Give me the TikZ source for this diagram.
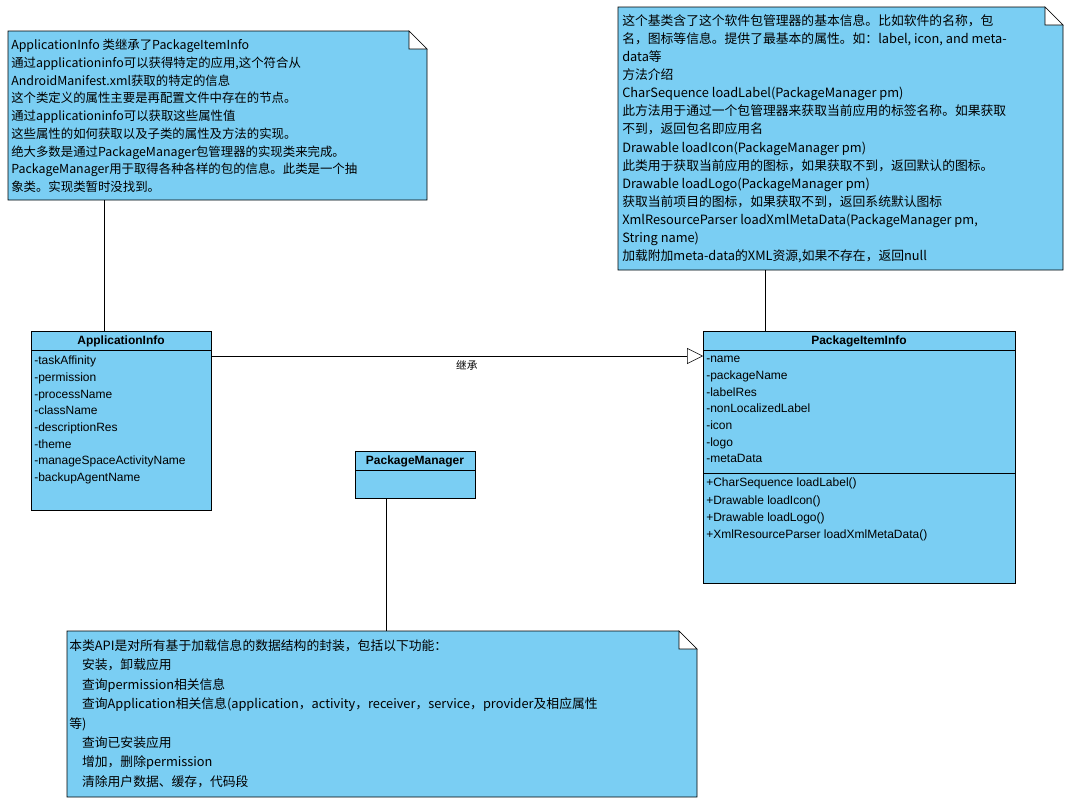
\documentclass[tikz,border=0pt]{standalone}
\usepackage{fontspec}
\setmainfont{Liberation Sans}
\newfontfamily\cjk{Noto Sans CJK SC}
\usepackage{tikz}
\usetikzlibrary{arrows.meta, positioning, calc}

\definecolor{umlblue}{RGB}{122,206,243}

\begin{document}
\begin{tikzpicture}[
    x=0.75pt, y=-0.75pt,
    note/.style={draw=black, fill=umlblue},
    notetext/.style={anchor=north west, inner sep=0pt, align=left},
    classbox/.style={draw=black, fill=umlblue},
    classname/.style={font=\fontsize{9}{11}\selectfont\bfseries, inner sep=0pt},
    members/.style={anchor=north west, inner sep=0pt, align=left, font=\fontsize{9}{12.5}\selectfont},
    link/.style={black},
    inherit/.style={-{Triangle[open, length=12pt, width=12pt]}, black}
]
\useasboundingbox (0,0) rectangle (1072,807);

% Note for ApplicationInfo
\draw[note] (8,31) -- (409,31) -- (427,49) -- (427,200) -- (8,200) -- cycle;
\draw[fill=white] (409,31) -- (409,49) -- (427,49) -- cycle;
\coordinate (n1) at (104,200);
\node[notetext, font=\cjk\fontsize{9.3}{13.3}\selectfont] (note1text) at (11,39) {ApplicationInfo 类继承了PackageItemInfo\\
通过applicationinfo可以获得特定的应用,这个符合从\\
AndroidManifest.xml获取的特定的信息\\
这个类定义的属性主要是再配置文件中存在的节点。\\
通过applicationinfo可以获取这些属性值\\
这些属性的如何获取以及子类的属性及方法的实现。\\
绝大多数是通过PackageManager包管理器的实现类来完成。\\
PackageManager用于取得各种各样的包的信息。此类是一个抽\\
象类。实现类暂时没找到。};

% Note for PackageItemInfo
\draw[note] (618,7) -- (1045,7) -- (1063,25) -- (1063,270) -- (618,270) -- cycle;
\draw[fill=white] (1045,7) -- (1045,25) -- (1063,25) -- cycle;
\coordinate (n2) at (765,270);
\node[notetext, font=\cjk\fontsize{9.6}{13.6}\selectfont] (note2text) at (622,14) {这个基类含了这个软件包管理器的基本信息。比如软件的名称，包\\
名，图标等信息。提供了最基本的属性。如：label, icon, and meta-\\
data等\\
方法介绍\\
CharSequence loadLabel(PackageManager pm)\\
此方法用于通过一个包管理器来获取当前应用的标签名称。如果获取\\
不到，返回包名即应用名\\
Drawable loadIcon(PackageManager pm)\\
此类用于获取当前应用的图标，如果获取不到，返回默认的图标。\\
Drawable loadLogo(PackageManager pm)\\
获取当前项目的图标，如果获取不到，返回系统默认图标\\
XmlResourceParser loadXmlMetaData(PackageManager pm,\\
String name)\\
加载附加meta-data的XML资源,如果不存在，返回null};

% Note for PackageManager
\draw[note] (67,631) -- (679,631) -- (697,649) -- (697,797) -- (67,797) -- cycle;
\draw[fill=white] (679,631) -- (679,649) -- (697,649) -- cycle;
\coordinate (n3) at (386,631);
\node[notetext, font=\cjk\fontsize{9.6}{14.6}\selectfont] (note3text) at (69,639) {本类API是对所有基于加载信息的数据结构的封装，包括以下功能：\\
\hspace*{1em}安装，卸载应用\\
\hspace*{1em}查询permission相关信息\\
\hspace*{1em}查询Application相关信息(application，activity，receiver，service，provider及相应属性\\
等)\\
\hspace*{1em}查询已安装应用\\
\hspace*{1em}增加，删除permission\\
\hspace*{1em}清除用户数据、缓存，代码段};

% ApplicationInfo class
\draw[classbox] (31,331) rectangle (211,510);
\draw (31,350) -- (211,350);
\node[classname] (appinfo) at (121,341) {ApplicationInfo};
\coordinate (appinfotop) at (104,331);
\coordinate (appinforight) at (211,356);
\node[members] (appattrs) at (34,356) {-taskAffinity\\-permission\\-processName\\-className\\-descriptionRes\\-theme\\-manageSpaceActivityName\\-backupAgentName};

% PackageItemInfo class
\draw[classbox] (703,331) rectangle (1015,583);
\draw (703,350) -- (1015,350);
\draw (703,473) -- (1015,473);
\node[classname] (iteminfo) at (859,341) {PackageItemInfo};
\coordinate (iteminfotop) at (765,331);
\coordinate (iteminfoleft) at (703,356);
\node[members] (itemattrs) at (706,356) {-name\\-packageName\\-labelRes\\-nonLocalizedLabel\\-icon\\-logo\\-metaData};
\node[members, font=\fontsize{9}{12.8}\selectfont] (itemops) at (706,478) {+CharSequence loadLabel()\\+Drawable loadIcon()\\+Drawable loadLogo()\\+XmlResourceParser loadXmlMetaData()};

% PackageManager class
\draw[classbox] (355,451) rectangle (475,498);
\draw (355,470) -- (475,470);
\node[classname] (pkgmgr) at (415,461) {PackageManager};
\coordinate (pkgmgrbottom) at (386,498);

% Connections
\draw[link] (n1) -- (appinfotop);
\draw[link] (n2) -- (iteminfotop);
\draw[link] (pkgmgrbottom) -- (n3);
\draw[inherit] (appinforight) -- (iteminfoleft) node[pos=0.52, below, font=\cjk\fontsize{8}{10}\selectfont] {继承};

\end{tikzpicture}
\end{document}
